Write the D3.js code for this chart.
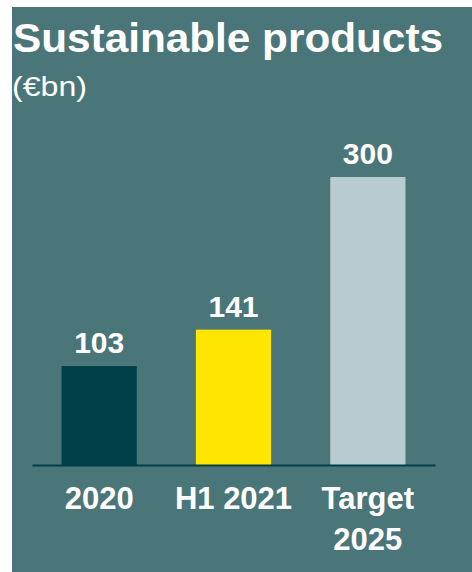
<!DOCTYPE html>
<html>
<head>
<meta charset="utf-8">
<script src="https://cdn.jsdelivr.net/npm/d3@7"></script>
<style>
  body { margin: 0; background: #fff; }
  text { font-family: "Liberation Sans", Arial, sans-serif; fill: #fff; }
</style>
</head>
<body>
<div class="chart"></div>
<script>
var width = 472;
var height = 572;

var categories = ["2020", "H1 2021", "Target 2025"];
var categoryLines = [["2020"], ["H1 2021"], ["Target", "2025"]];
var values = [103, 141, 300];
var barColours = ["#003f48", "#ffe600", "#b8cbd0"];

var svg = d3
  .select(".chart")
  .append("svg")
  .attr("width", width)
  .attr("height", height);

// panel
svg.append("rect")
  .attr("x", 12)
  .attr("y", 7)
  .attr("width", width - 12)
  .attr("height", height - 7)
  .attr("fill", "#4b7679");

// title
svg.append("text")
  .attr("x", 13)
  .attr("y", 52)
  .attr("textLength", 430)
  .attr("lengthAdjust", "spacingAndGlyphs")
  .style("font-size", "40px")
  .style("font-weight", "bold")
  .text("Sustainable products");

svg.append("text")
  .attr("x", 12)
  .attr("y", 96)
  .attr("textLength", 75)
  .attr("lengthAdjust", "spacingAndGlyphs")
  .style("font-size", "28px")
  .text("(€bn)");

// scales
var xScale = d3.scaleBand()
  .domain(categories)
  .range([32, 435])
  .paddingInner(0.44)
  .paddingOuter(0.22);

var yScale = d3.scaleLinear()
  .domain([0, 300])
  .range([465, 177]);

// bars
svg.selectAll(".bar")
  .data(values)
  .enter()
  .append("rect")
  .attr("class", "bar")
  .attr("x", function (d, i) { return xScale(categories[i]); })
  .attr("y", function (d) { return yScale(d); })
  .attr("width", xScale.bandwidth())
  .attr("height", function (d) { return yScale(0) - yScale(d); })
  .attr("fill", function (d, i) { return barColours[i]; });

// value labels
svg.selectAll(".value")
  .data(values)
  .enter()
  .append("text")
  .attr("class", "value")
  .attr("x", function (d, i) { return xScale(categories[i]) + xScale.bandwidth() / 2; })
  .attr("y", function (d) { return yScale(d) - 13; })
  .attr("text-anchor", "middle")
  .style("font-size", "30px")
  .style("font-weight", "bold")
  .text(function (d) { return d; });

// x axis
var xAxis = d3.axisBottom(xScale).tickSize(0).tickPadding(0);

var xAxisGroup = svg.append("g")
  .attr("transform", "translate(0," + yScale(0) + ")")
  .call(xAxis);

xAxisGroup.select(".domain")
  .attr("stroke", "#003f48")
  .attr("stroke-width", 2);

xAxisGroup.selectAll(".tick text")
  .attr("fill", "#fff")
  .attr("dy", null)
  .attr("y", 0)
  .style("font-family", "\"Liberation Sans\", Arial, sans-serif")
  .style("font-size", "31px")
  .style("font-weight", "bold")
  .each(function (d, i) {
    var t = d3.select(this).text("");
    categoryLines[i].forEach(function (line, j) {
      t.append("tspan")
        .attr("x", 0)
        .attr("y", 44 + j * 41)
        .text(line);
    });
  });
</script>
</body>
</html>
